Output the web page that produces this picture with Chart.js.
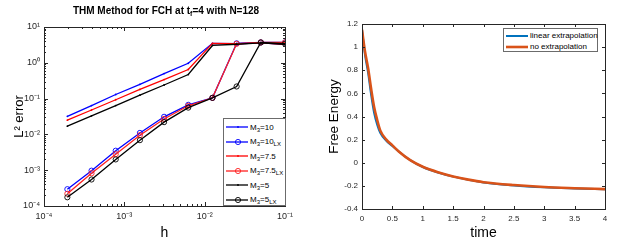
<!DOCTYPE html>
<html>
<head>
<meta charset="utf-8">
<script src="https://cdn.jsdelivr.net/npm/chart.js@4/dist/chart.umd.min.js"></script>
<style>
  body { margin: 0; background: #fff; font-family: 'Liberation Sans', Arial, sans-serif; color: #262626; }
  #wrap { position: relative; width: 618px; height: 246px; overflow: hidden; }
  .pane { position: absolute; top: 0; height: 246px; }
  .title { position: absolute; top: 5px; left: 166px; transform: translateX(-50%); white-space: nowrap;
           font-weight: bold; font-size: 10px; color: #000; }
  .title sub { font-size: 7px; vertical-align: -2px; line-height: 0; }
  .legend { position: absolute; background: #fff; border: 1px solid #6b6b6b; box-sizing: border-box; font-size: 8px; color: #000; }
  .legend .row { display: flex; align-items: center; white-space: nowrap; }
  .legend svg { flex: none; }
  .legend sub { font-size: 6px; vertical-align: -2px; line-height: 0; }
</style>
</head>
<body>
<div id="wrap">
  <div class="pane" style="left:0;width:310px"><canvas id="errChart"></canvas></div>
  <div class="pane" style="left:310px;width:308px"><canvas id="energyChart"></canvas></div>
  <div class="title">THM Method for FCH at t<sub>f</sub>=4 with N=128</div>
  <div class="legend" id="errLegend" style="left:223px;top:118px;width:63px;height:88px;padding-top:1px"></div>
  <div class="legend" id="energyLegend" style="left:503px;top:28px;width:95px;height:24px;padding-top:1px"></div>
</div>
<script>
// ---- left panel: L2 error vs h ----
const hValues = [1.953125e-4, 3.90625e-4, 7.8125e-4, 0.0015625, 0.003125, 0.00625, 0.0125, 0.025, 0.05, 0.1];
const errM10    = [0.032, 0.064, 0.13, 0.25, 0.5, 0.97, 3.5, 3.4, 3.6, 3.3];
const errM10LX  = [2.95e-4, 9.7e-4, 3.5e-3, 0.011, 0.031, 0.067, 0.105, 3.5, 3.7, 3.7];
const errM75    = [0.025, 0.048, 0.093, 0.18, 0.34, 0.65, 3.5, 3.4, 3.6, 3.3];
const errM75LX  = [2.2e-4, 8.2e-4, 2.8e-3, 9.5e-3, 0.027, 0.063, 0.105, 3.4, 3.7, 3.7];
const errM5     = [0.017, 0.033, 0.064, 0.125, 0.24, 0.47, 3.05, 3.3, 3.6, 3.25];
const errM5LX   = [1.75e-4, 5.5e-4, 2.0e-3, 6.9e-3, 0.022, 0.056, 0.105, 0.218, 3.7, 3.4];
const hTicks = [1e-4, 1e-3, 1e-2, 1e-1];
const hTickLabels = ['10\u207B\u2074', '10\u207B\u00B3', '10\u207B\u00B2', '10\u207B\u00B9'];
const errTicks = [1e-4, 1e-3, 1e-2, 1e-1, 1, 10];
const errTickLabels = ['10\u207B\u2074', '10\u207B\u00B3', '10\u207B\u00B2', '10\u207B\u00B9', '10\u2070', '10\u00B9'];

// ---- right panel: free energy vs time ----
const timeValues   = [0, 0.05, 0.1, 0.15, 0.2, 0.25, 0.3, 0.4, 0.5, 0.6, 0.8, 1, 1.25, 1.5, 1.75, 2, 2.5, 3, 3.5, 4];
const energyLinear = [1.15, 0.93, 0.78, 0.59, 0.43, 0.33, 0.26, 0.19, 0.145, 0.1, 0.02, -0.037, -0.084, -0.12, -0.148, -0.17, -0.196, -0.212, -0.222, -0.23];
const energyNoExt  = [1.15, 0.96, 0.82, 0.64, 0.48, 0.37, 0.28, 0.2, 0.15, 0.1, 0.02, -0.035, -0.082, -0.118, -0.146, -0.168, -0.193, -0.21, -0.22, -0.228];
const timeTicks = [0, 0.5, 1, 1.5, 2, 2.5, 3, 3.5, 4];
const timeTickLabels = ['0', '0.5', '1', '1.5', '2', '2.5', '3', '3.5', '4'];
const energyTicks = [-0.4, -0.2, 0, 0.2, 0.4, 0.6, 0.8, 1, 1.2];
const energyTickLabels = ['-0.4', '-0.2', '0', '0.2', '0.4', '0.6', '0.8', '1', '1.2'];

Chart.defaults.font.family = "'Liberation Sans', Arial, sans-serif";
Chart.defaults.color = '#262626';

const pts = (xs, ys) => xs.map((x, i) => ({ x: x, y: ys[i] }));

// MATLAB-like box with inward ticks (and log minor ticks)
const boxTicks = {
    id: 'boxTicks',
    afterDraw(chart, args, opts) {
        const { ctx, chartArea: a, scales } = chart;
        ctx.save();
        ctx.strokeStyle = '#262626';
        ctx.lineWidth = 1;
        ctx.strokeRect(Math.round(a.left) + 0.5, Math.round(a.top) + 0.5,
                       Math.round(a.right - a.left), Math.round(a.bottom - a.top));
        const tickX = (px, len) => {
            px = Math.round(px) + 0.5;
            ctx.beginPath();
            ctx.moveTo(px, a.bottom); ctx.lineTo(px, a.bottom - len);
            ctx.moveTo(px, a.top); ctx.lineTo(px, a.top + len);
            ctx.stroke();
        };
        const tickY = (py, len) => {
            py = Math.round(py) + 0.5;
            ctx.beginPath();
            ctx.moveTo(a.left, py); ctx.lineTo(a.left + len, py);
            ctx.moveTo(a.right, py); ctx.lineTo(a.right - len, py);
            ctx.stroke();
        };
        const minorLog = (scale, fn) => {
            for (let e = Math.floor(Math.log10(scale.min)); e < Math.log10(scale.max); e++) {
                for (let k = 2; k <= 9; k++) {
                    const v = k * Math.pow(10, e);
                    if (v > scale.min && v < scale.max) fn(scale.getPixelForValue(v), 2);
                }
            }
        };
        scales.x.ticks.forEach(t => tickX(scales.x.getPixelForValue(t.value), opts.len));
        scales.y.ticks.forEach(t => tickY(scales.y.getPixelForValue(t.value), opts.len));
        if (scales.x.type === 'logarithmic') minorLog(scales.x, tickX);
        if (scales.y.type === 'logarithmic') minorLog(scales.y, tickY);
        ctx.restore();
    }
};

function fixedTicks(vals) {
    return scale => { scale.ticks = vals.map(v => ({ value: v })); };
}

// Error chart
const errSeries = [
    { label: 'M3=10',    data: errM10,   color: '#0000ff', lx: false },
    { label: 'M3=10LX',  data: errM10LX, color: '#0000ff', lx: true },
    { label: 'M3=7.5',   data: errM75,   color: '#ff0000', lx: false },
    { label: 'M3=7.5LX', data: errM75LX, color: '#ff2020', lx: true },
    { label: 'M3=5',     data: errM5,    color: '#000000', lx: false },
    { label: 'M3=5LX',   data: errM5LX,  color: '#000000', lx: true }
];

new Chart(document.getElementById('errChart'), {
    type: 'line',
    data: {
        datasets: errSeries.map((s, i) => ({
            label: s.label,
            data: pts(hValues, s.data),
            borderColor: s.color,
            borderWidth: 1.3,
            pointRadius: s.lx ? 2.6 : 0.9,
            pointBorderWidth: s.lx ? 0.9 : 0,
            pointBorderColor: s.color,
            pointBackgroundColor: s.lx ? 'rgba(0,0,0,0)' : s.color,
            tension: 0,
            order: errSeries.length - i
        }))
    },
    options: {
        responsive: true,
        maintainAspectRatio: false,
        animation: false,
        devicePixelRatio: 1,
        layout: { padding: { top: 27, right: 25, bottom: 0, left: 0 } },
        plugins: { legend: { display: false }, tooltip: { enabled: false }, boxTicks: { len: 4 } },
        scales: {
            x: {
                type: 'logarithmic',
                min: 1e-4,
                max: 1e-1,
                afterBuildTicks: fixedTicks(hTicks),
                afterFit: s => { s.height = 40; },
                grid: { display: false, drawTicks: false },
                border: { display: false },
                ticks: { autoSkip: false, maxRotation: 0, padding: 5, font: { size: 9 },
                         callback: (v, i) => hTickLabels[i] },
                title: { display: true, text: 'h', font: { size: 14 }, color: '#000', padding: { top: 0, bottom: 4 } }
            },
            y: {
                type: 'logarithmic',
                min: 1e-4,
                max: 10,
                afterBuildTicks: fixedTicks(errTicks),
                afterFit: s => { s.width = 44; },
                grid: { display: false, drawTicks: false },
                border: { display: false },
                ticks: { autoSkip: false, padding: 4, font: { size: 9 },
                         callback: (v, i) => errTickLabels[i] },
                title: { display: true, text: 'L\u00B2 error', font: { size: 13 }, color: '#000', padding: { top: 12, bottom: 0 } }
            }
        }
    },
    plugins: [boxTicks]
});

// Energy chart
const energySeries = [
    { label: 'linear extrapolation', data: energyLinear, color: '#0072bd', width: 2 },
    { label: 'no extrapolation',     data: energyNoExt,  color: '#d95319', width: 2.6 }
];

new Chart(document.getElementById('energyChart'), {
    type: 'line',
    data: {
        datasets: energySeries.map((s, i) => ({
            label: s.label,
            data: pts(timeValues, s.data),
            borderColor: s.color,
            borderWidth: s.width,
            pointRadius: 0,
            cubicInterpolationMode: 'monotone',
            order: energySeries.length - i
        }))
    },
    options: {
        responsive: true,
        maintainAspectRatio: false,
        animation: false,
        devicePixelRatio: 1,
        layout: { padding: { top: 24, right: 13, bottom: 0, left: 0 } },
        plugins: { legend: { display: false }, tooltip: { enabled: false }, boxTicks: { len: 3 } },
        scales: {
            x: {
                type: 'linear',
                min: 0,
                max: 4,
                afterBuildTicks: fixedTicks(timeTicks),
                afterFit: s => { s.height = 37; },
                grid: { display: false, drawTicks: false },
                border: { display: false },
                ticks: { autoSkip: false, maxRotation: 0, padding: 5, font: { size: 8 },
                         callback: (v, i) => timeTickLabels[i] },
                title: { display: true, text: 'time', font: { size: 14 }, color: '#000', padding: { top: 0, bottom: 4 } }
            },
            y: {
                type: 'linear',
                min: -0.4,
                max: 1.2,
                afterBuildTicks: fixedTicks(energyTicks),
                afterFit: s => { s.width = 52; },
                grid: { display: false, drawTicks: false },
                border: { display: false },
                ticks: { autoSkip: false, padding: 4, font: { size: 8 },
                         callback: (v, i) => energyTickLabels[i] },
                title: { display: true, text: 'Free Energy', font: { size: 13.5 }, color: '#000', padding: { top: 16, bottom: 0 } }
            }
        }
    },
    plugins: [boxTicks]
});

// HTML legends (for the subscripts)
function legendRow(color, width, lx, dot, html, rowH) {
    const marker = lx
        ? `<circle cx="12" cy="4" r="2.6" fill="none" stroke="${color}" stroke-width="0.9"/>`
        : (dot ? `<circle cx="12" cy="4" r="0.9" fill="${color}"/>` : '');
    return `<div class="row" style="height:${rowH}px">` +
        `<svg width="24" height="8" style="margin-left:2px"><line x1="0" y1="4" x2="22" y2="4" stroke="${color}" stroke-width="${width}"/>${marker}</svg>` +
        `<span>${html}</span></div>`;
}
const subLabel = l => l.replace('M3', 'M<sub>3</sub>').replace('LX', '<sub>LX</sub>');
document.getElementById('errLegend').innerHTML =
    errSeries.map(s => legendRow(s.color, 1.3, s.lx, true, subLabel(s.label), 14.5)).join('');
document.getElementById('energyLegend').innerHTML =
    energySeries.map(s => legendRow(s.color, s.width, false, false, s.label, 11)).join('');
</script>
</body>
</html>
